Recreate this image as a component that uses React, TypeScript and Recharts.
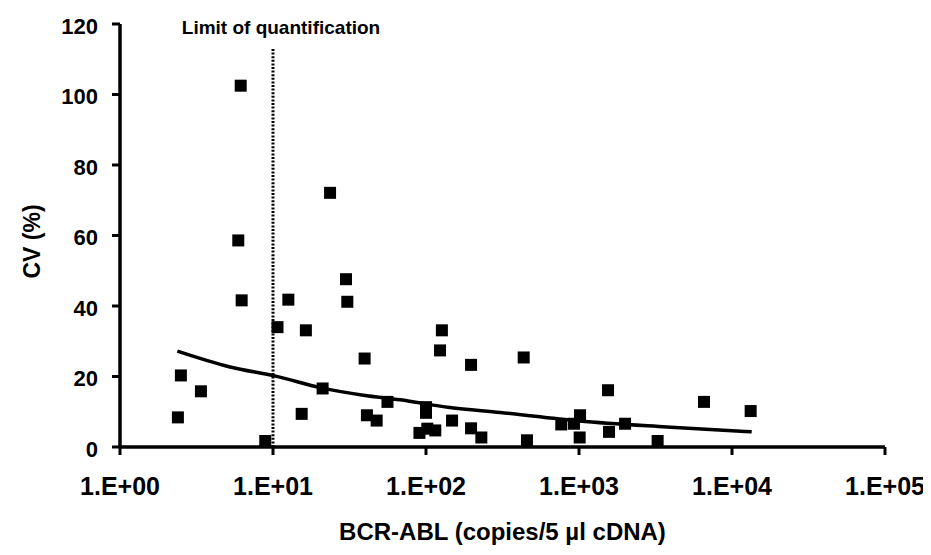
import {
  ComposedChart,
  Scatter,
  Line,
  XAxis,
  YAxis,
  ReferenceLine,
  Label
} from 'recharts';

// Titik-titik CV per sampel (salinan BCR-ABL vs CV %)
const copies = [
  2.39, 2.5, 3.38, 5.93, 6.15, 6.24, 8.9, 10.7, 12.6, 15.4, 16.4, 21.1, 23.6, 30.0,
  30.6, 39.7, 41.1, 47.6, 56.0, 90.6, 100, 100, 102, 115, 123.5, 127, 148, 197, 197,
  230, 435, 457, 766, 927, 1016, 1010, 1548, 1571, 2000, 3266, 6560, 13240
];
const cvValues = [
  8.4, 20.3, 15.8, 58.6, 102.5, 41.6, 1.7, 34.0, 41.8, 9.4, 33.1, 16.6, 72.1, 47.6,
  41.2, 25.1, 9.0, 7.5, 12.8, 4.0, 11.3, 9.7, 5.2, 4.7, 27.4, 33.1, 7.5, 23.3, 5.3,
  2.7, 25.4, 1.9, 6.4, 6.6, 9.0, 2.7, 16.1, 4.3, 6.6, 1.7, 12.8, 10.2
];

// Garis tren
const trendCopies = [2.37, 5.24, 10.4, 21.1, 38.9, 67.6, 143, 305, 1000, 3741, 13450];
const trendCv = [27.2, 22.7, 20.1, 16.7, 14.7, 13.4, 11.2, 9.8, 7.4, 5.7, 4.3];

const xTicks = [1, 10, 100, 1000, 10000, 100000];
const yTicks = [0, 20, 40, 60, 80, 100, 120];

// Batas kuantifikasi
const loqCopies = 10;
const loqTop = 113;

const points = copies.map((x, i) => ({ x, y: cvValues[i] }));
const trend = trendCopies.map((x, i) => ({ x, y: trendCv[i] }));

const FONT = '"Liberation Sans", Arial, sans-serif';

const Square = ({ cx, cy }: any) => (
  <rect x={cx - 6} y={cy - 6} width={12} height={12} fill="#000" />
);

const formatExp = (v: number) => `1.E+0${Math.round(Math.log10(v))}`;

const XTick = ({ x, y, payload }: any) => (
  <text
    x={x}
    y={y}
    dy="0.72em"
    textAnchor="middle"
    fontFamily={FONT}
    fontWeight="bold"
    fontSize={25}
    fill="#000"
  >
    {formatExp(payload.value)}
  </text>
);

const YTick = ({ x, y, payload }: any) => (
  <text
    x={x}
    y={y}
    dy="0.45em"
    textAnchor="end"
    fontFamily={FONT}
    fontWeight="bold"
    fontSize={22}
    fill="#000"
  >
    {payload.value}
  </text>
);

const XTitle = ({ viewBox }: any) => (
  <text
    x={viewBox.x + viewBox.width / 2}
    y={viewBox.y + viewBox.height - 15}
    textAnchor="middle"
    fontFamily={FONT}
    fontWeight="bold"
    fontSize={24}
    fill="#000"
  >
    BCR-ABL (copies/5 µl cDNA)
  </text>
);

const YTitle = ({ viewBox }: any) => {
  const cx = 24;
  const cy = viewBox.y + viewBox.height / 2 + 6;
  return (
    <text
      x={cx}
      y={cy}
      transform={`rotate(-90 ${cx} ${cy})`}
      textAnchor="middle"
      dominantBaseline="central"
      fontFamily={FONT}
      fontWeight="bold"
      fontSize={23}
      fill="#000"
    >
      CV (%)
    </text>
  );
};

const LoqLabel = ({ viewBox }: any) => (
  <text
    x={viewBox.x + 8}
    y={viewBox.y - 15}
    textAnchor="middle"
    fontFamily={FONT}
    fontWeight="bold"
    fontSize={19}
    fill="#000"
  >
    Limit of quantification
  </text>
);

export default function App() {
  return (
    <div style={{ width: 923, height: 547 }}>
      <ComposedChart
        width={923}
        height={547}
        margin={{ top: 16, right: 46, bottom: 0, left: 0 }}
      >
        <XAxis
          dataKey="x"
          type="number"
          scale="log"
          domain={[1, 100000]}
          ticks={xTicks}
          height={108}
          tickSize={8}
          tickMargin={22}
          axisLine={{ stroke: '#000', strokeWidth: 3.5 }}
          tickLine={{ stroke: '#000', strokeWidth: 3 }}
          tick={<XTick />}
        >
          <Label content={<XTitle />} />
        </XAxis>
        <YAxis
          dataKey="y"
          type="number"
          domain={[0, 120]}
          ticks={yTicks}
          width={112}
          tickSize={8}
          tickMargin={14}
          axisLine={{ stroke: '#000', strokeWidth: 3.5 }}
          tickLine={{ stroke: '#000', strokeWidth: 3 }}
          tick={<YTick />}
        >
          <Label content={<YTitle />} />
        </YAxis>

        {/* Garis putus-putus batas kuantifikasi */}
        <ReferenceLine
          segment={[{ x: loqCopies, y: 0 }, { x: loqCopies, y: loqTop }]}
          stroke="#000"
          strokeWidth={3}
          strokeDasharray="2 1.6"
          label={<LoqLabel />}
        />

        <Scatter
          data={points}
          dataKey="y"
          shape={<Square />}
          isAnimationActive={false}
        />
        <Line
          data={trend}
          dataKey="y"
          type="monotone"
          stroke="#000"
          strokeWidth={3.5}
          dot={false}
          activeDot={false}
          isAnimationActive={false}
        />
      </ComposedChart>
    </div>
  );
}
